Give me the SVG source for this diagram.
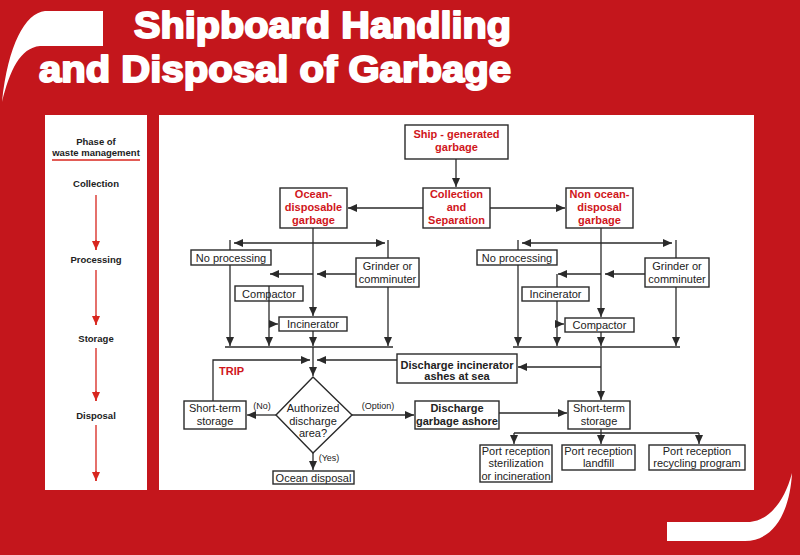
<svg xmlns="http://www.w3.org/2000/svg" width="800" height="555" viewBox="0 0 800 555">
<defs>
<marker id="a" markerUnits="userSpaceOnUse" markerWidth="9" markerHeight="8" refX="9" refY="4" orient="auto-start-reverse"><path d="M0,0 L9,4 L0,8 z" fill="#2a2a2a"/></marker>
<marker id="r" markerUnits="userSpaceOnUse" markerWidth="9" markerHeight="8" refX="9" refY="4" orient="auto"><path d="M0,0 L9,4 L0,8 z" fill="#d8261e"/></marker>
<style>
.bx{fill:#fff;stroke:#2a2a2a;stroke-width:1.4}
.ln{fill:none;stroke:#2a2a2a;stroke-width:1.3}
.ar{fill:none;stroke:#2a2a2a;stroke-width:1.3;marker-end:url(#a)}
.da{fill:none;stroke:#2a2a2a;stroke-width:1.3;marker-end:url(#a);marker-start:url(#a)}
.t{font-family:"Liberation Sans",Arial,sans-serif;font-size:11px;fill:#222;text-anchor:middle}
.rt{font-family:"Liberation Sans",Arial,sans-serif;font-size:11px;font-weight:bold;fill:#d0161b;text-anchor:middle}
.bt{font-family:"Liberation Sans",Arial,sans-serif;font-size:11px;font-weight:bold;fill:#222;text-anchor:middle}
.s{font-family:"Liberation Sans",Arial,sans-serif;font-size:9px;fill:#222;text-anchor:middle}
.ph{font-family:"Liberation Sans",Arial,sans-serif;font-size:9.5px;font-weight:bold;fill:#222;text-anchor:middle}
.ttl{font-family:"Liberation Sans",Arial,sans-serif;font-size:37px;font-weight:bold;fill:#fff;stroke:#fff;stroke-width:2;stroke-linejoin:round}
</style>
</defs>
<rect x="0" y="0" width="800" height="555" fill="#c4161c"/>
<path d="M103,11 H45 C25,13 8,45 2,102 C10,70 20,48 40,46 H103 Z" fill="#fff"/>
<path d="M667,522 H750 C770,520 785,500 792,473 C790,510 775,541 745,541 H667 Z" fill="#fff"/>
<text class="ttl" x="134" y="38" textLength="377" lengthAdjust="spacingAndGlyphs">Shipboard Handling</text>
<text class="ttl" x="39" y="82" textLength="472" lengthAdjust="spacingAndGlyphs">and Disposal of Garbage</text>
<rect x="45" y="115" width="102" height="375" fill="#fff"/>
<rect x="159" y="115" width="595" height="375" fill="#fff"/>

<g id="phases">
<text class="ph" x="96" y="145">Phase of</text>
<text class="ph" x="96" y="156">waste management</text>
<line x1="52" y1="160" x2="140" y2="160" stroke="#d8261e" stroke-width="1.5"/>
<text class="ph" x="96" y="187">Collection</text>
<text class="ph" x="96" y="263">Processing</text>
<text class="ph" x="96" y="342">Storage</text>
<text class="ph" x="96" y="419">Disposal</text>
<path d="M96,195 V250 M96,270 V325 M96,348 V401 M96,425 V481" fill="none" stroke="#d8261e" stroke-width="1.3"/>
<path d="M96,240 V250" stroke="#d8261e" stroke-width="1.3" marker-end="url(#r)"/>
<path d="M96,315 V325" stroke="#d8261e" stroke-width="1.3" marker-end="url(#r)"/>
<path d="M96,391 V401" stroke="#d8261e" stroke-width="1.3" marker-end="url(#r)"/>
<path d="M96,471 V481" stroke="#d8261e" stroke-width="1.3" marker-end="url(#r)"/>
</g>

<g id="connectors">
<path class="ar" d="M456,159 V187"/>
<path class="ar" d="M423,208 H348"/>
<path class="ar" d="M490,208 H565"/>
<path class="ar" d="M313,228 V316"/>
<path class="da" d="M234,243 H385"/>
<path class="ln" d="M230,240 V250 M388,240 V258"/>
<path class="ar" d="M356,274 H317"/>
<path class="ar" d="M313,274 H270"/>
<path class="ar" d="M230,265 V346"/>
<path class="ar" d="M388,287 V346"/>
<path class="ar" d="M313,331 V346"/>
<path class="ln" d="M225,347 H393"/>
<path class="ar" d="M313,347 V376"/>
<path class="ar" d="M213,401 V360 H310"/>
<path class="ar" d="M397,360 H317"/>
<path class="ar" d="M276,415 H247"/>
<path class="ar" d="M352,415 H414"/>
<path class="ar" d="M313,453 V470"/>
<path class="ar" d="M601,228 V317"/>
<path class="da" d="M522,243 H672"/>
<path class="ln" d="M518,240 V250 M676,240 V258"/>
<path class="ar" d="M645,274 H605"/>
<path class="ar" d="M601,274 H558"/>
<path class="ar" d="M557,274 V346"/>
<path class="ar" d="M557,324 H564"/>
<path class="ar" d="M518,265 V346"/>
<path class="ar" d="M676,287 V346"/>
<path class="ar" d="M601,332 V346"/>
<path class="ln" d="M513,347 H680"/>
<path class="ar" d="M601,347 V400"/>
<path class="ar" d="M601,367 H518"/>
<path class="ar" d="M499,413 H567"/>
<path class="ln" d="M601,429 V433 M514,433 H699"/>
<path class="ar" d="M514,433 V444"/>
<path class="ar" d="M601,433 V444"/>
<path class="ar" d="M699,433 V444"/>
</g>

<g id="ship"><rect class="bx" x="405" y="125" width="103" height="34"/><text class="rt" x="456.5" y="138">Ship - generated</text><text class="rt" x="456.5" y="151">garbage</text></g>
<g id="collection"><rect class="bx" x="423" y="188" width="67" height="40"/><text class="rt" x="456.5" y="198">Collection</text><text class="rt" x="456.5" y="211">and</text><text class="rt" x="456.5" y="224">Separation</text></g>
<g id="ocean"><rect class="bx" x="280" y="188" width="67" height="40"/><text class="rt" x="313.5" y="198">Ocean-</text><text class="rt" x="313.5" y="211">disposable</text><text class="rt" x="313.5" y="224">garbage</text></g>
<g id="nonocean"><rect class="bx" x="566" y="188" width="67" height="40"/><text class="rt" x="599.5" y="198">Non ocean-</text><text class="rt" x="599.5" y="211">disposal</text><text class="rt" x="599.5" y="224">garbage</text></g>

<g id="noproc-l"><rect class="bx" x="191" y="250" width="80" height="15"/><text class="t" x="231" y="261.5">No processing</text></g>
<g id="grinder-l"><rect class="bx" x="356" y="258" width="63" height="29"/><text class="t" x="387.5" y="270">Grinder or</text><text class="t" x="387.5" y="283">comminuter</text></g>
<g id="compactor-l"><rect class="bx" x="235" y="286" width="68" height="15"/><text class="t" x="269" y="297.5">Compactor</text></g>
<path class="ln" d="M269,286 V301"/>
<path class="ar" d="M269,301 V346"/>
<path class="ar" d="M269,324 H278"/>
<g id="incin-l"><rect class="bx" x="279" y="317" width="68" height="14"/><text class="t" x="313" y="328">Incinerator</text></g>

<g id="noproc-r"><rect class="bx" x="477" y="250" width="80" height="15"/><text class="t" x="517" y="261.5">No processing</text></g>
<g id="grinder-r"><rect class="bx" x="645" y="258" width="64" height="29"/><text class="t" x="677" y="270">Grinder or</text><text class="t" x="677" y="283">comminuter</text></g>
<g id="incin-r"><rect class="bx" x="522" y="287" width="67" height="14"/><text class="t" x="555.5" y="298">Incinerator</text></g>
<g id="compactor-r"><rect class="bx" x="565" y="318" width="69" height="14"/><text class="t" x="599.5" y="329">Compactor</text></g>

<g id="ashes"><rect class="bx" x="397" y="354" width="120" height="29"/><text class="bt" x="457" y="369">Discharge incinerator</text><text class="bt" x="457" y="380">ashes at sea</text></g>
<text class="rt" x="219" y="375" style="text-anchor:start">TRIP</text>
<g id="storage-l"><rect class="bx" x="184" y="401" width="62" height="28"/><text class="t" x="215" y="412">Short-term</text><text class="t" x="215" y="425">storage</text></g>
<g id="diamond"><path class="bx" d="M313,377 L352,415 L313,453 L276,415 Z"/><text class="t" x="313" y="412">Authorized</text><text class="t" x="313" y="425">discharge</text><text class="t" x="313" y="437">area?</text></g>
<text class="s" x="262" y="409">(No)</text>
<text class="s" x="378" y="409">(Option)</text>
<text class="s" x="329" y="461">(Yes)</text>
<g id="oceandisp"><rect class="bx" x="273" y="471" width="81" height="13"/><text class="t" x="313.5" y="481.5">Ocean disposal</text></g>
<g id="ashore"><rect class="bx" x="415" y="401" width="84" height="28"/><text class="bt" x="457" y="412">Discharge</text><text class="bt" x="457" y="425">garbage ashore</text></g>
<g id="storage-r"><rect class="bx" x="568" y="401" width="62" height="28"/><text class="t" x="599" y="412">Short-term</text><text class="t" x="599" y="425">storage</text></g>
<g id="port1"><rect class="bx" x="480" y="445" width="72" height="37"/><text class="t" x="516" y="455">Port reception</text><text class="t" x="516" y="467">sterilization</text><text class="t" x="516" y="479.5">or incineration</text></g>
<g id="port2"><rect class="bx" x="562" y="445" width="73" height="25"/><text class="t" x="598.5" y="455">Port reception</text><text class="t" x="598.5" y="467">landfill</text></g>
<g id="port3"><rect class="bx" x="649" y="445" width="96" height="25"/><text class="t" x="697" y="455">Port reception</text><text class="t" x="697" y="467">recycling program</text></g>
</svg>
